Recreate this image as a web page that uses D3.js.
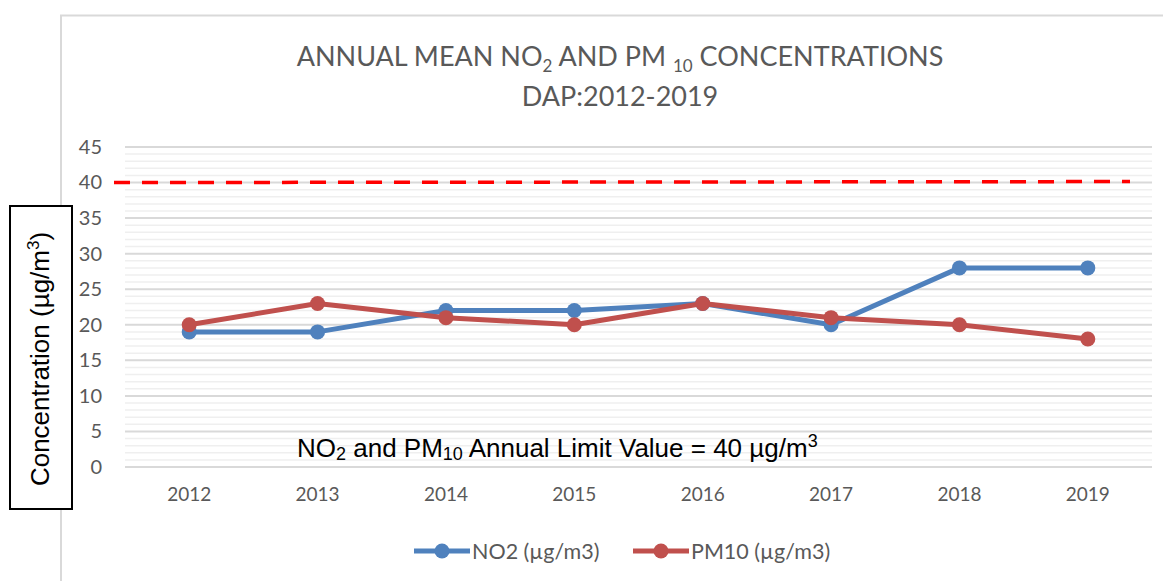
<!DOCTYPE html>
<html>
<head>
<meta charset="utf-8">
<script src="https://cdn.jsdelivr.net/npm/d3@7"></script>
<style>
  body { margin: 0; background: #fff; }
  svg { display: block; }
</style>
</head>
<body>
<svg id="chart" width="1163" height="581"></svg>
<script>
// values
var years = ["2012", "2013", "2014", "2015", "2016", "2017", "2018", "2019"];
var no2 = [19, 19, 22, 22, 23, 20, 28, 28];
var pm10 = [20, 23, 21, 20, 23, 21, 20, 18];
var yTicks = [0, 5, 10, 15, 20, 25, 30, 35, 40, 45];
var limitValue = 40;
var seriesNames = ["NO2 (µg/m3)", "PM10 (µg/m3)"];

var svg = d3.select("#chart"),
    plotLeft = 125,
    plotRight = 1152,
    plotTop = 147,
    plotBottom = 467,
    tickFont = "Lato, 'Open Sans', sans-serif",
    grey = "#595959",
    blue = "#4f81bd",
    red = "#c0504d";

// chart frame
svg.append("path")
  .attr("d", "M61,581 V15.5 H1163")
  .attr("fill", "none")
  .attr("stroke", "#d9d9d9")
  .attr("stroke-width", 2);

var x = d3.scaleBand().domain(years).range([plotLeft, plotRight]);
var y = d3.scaleLinear().domain([0, 45]).range([plotBottom, plotTop]);

// minor gridlines every 1, major every 5
svg.append("g").selectAll("line")
  .data(d3.range(0, 46).filter(function(v){ return v % 5 != 0; }))
  .enter().append("line")
  .attr("x1", plotLeft).attr("x2", plotRight)
  .attr("y1", function(d){ return y(d); })
  .attr("y2", function(d){ return y(d); })
  .attr("stroke", "#efefef")
  .attr("stroke-width", 1.5);

svg.append("g").selectAll("line")
  .data(yTicks)
  .enter().append("line")
  .attr("x1", plotLeft).attr("x2", plotRight)
  .attr("y1", function(d){ return y(d); })
  .attr("y2", function(d){ return y(d); })
  .attr("stroke", "#d9d9d9")
  .attr("stroke-width", 2);

// axes (labels only)
var yAxis = svg.append("g")
  .attr("transform", "translate(" + (plotLeft - 23) + ",0)")
  .call(d3.axisLeft(y).tickValues(yTicks).tickSize(0).tickPadding(0));
yAxis.select(".domain").remove();
yAxis.selectAll("text")
  .attr("font-family", tickFont)
  .attr("font-size", 20)
  .attr("fill", grey);

var xAxis = svg.append("g")
  .attr("transform", "translate(0," + (plotBottom + 20) + ")")
  .call(d3.axisBottom(x).tickSize(0).tickPadding(0));
xAxis.select(".domain").remove();
xAxis.selectAll("text")
  .attr("font-family", tickFont)
  .attr("font-size", 19)
  .attr("fill", grey);

// limit line
svg.append("line")
  .attr("x1", 114).attr("x2", 1130)
  .attr("y1", y(limitValue)).attr("y2", y(limitValue) - 1)
  .attr("stroke", "#ff0000")
  .attr("stroke-width", 3.5)
  .attr("stroke-dasharray", "16,12");

// series
var line = d3.line()
  .x(function(d, i){ return x(years[i]) + x.bandwidth() / 2; })
  .y(function(d){ return y(d); });

[[no2, blue], [pm10, red]].forEach(function(s){
  svg.append("path")
    .datum(s[0])
    .attr("d", line)
    .attr("fill", "none")
    .attr("stroke", s[1])
    .attr("stroke-width", 5)
    .attr("stroke-linejoin", "round");
  svg.append("g").selectAll("circle")
    .data(s[0])
    .enter().append("circle")
    .attr("cx", function(d, i){ return x(years[i]) + x.bandwidth() / 2; })
    .attr("cy", function(d){ return y(d); })
    .attr("r", 7.5)
    .attr("fill", s[1]);
});

// title
var title = svg.append("text")
  .attr("x", 620).attr("y", 66)
  .attr("text-anchor", "middle")
  .attr("font-family", tickFont)
  .attr("font-size", 27)
  .attr("fill", grey);
title.append("tspan").text("ANNUAL MEAN NO");
title.append("tspan").attr("font-size", 17).attr("dy", 6).text("2");
title.append("tspan").attr("dy", -6).text(" AND PM ");
title.append("tspan").attr("font-size", 17).attr("dy", 6).text("10");
title.append("tspan").attr("dy", -6).text(" CONCENTRATIONS");

svg.append("text")
  .attr("x", 620).attr("y", 106)
  .attr("text-anchor", "middle")
  .attr("font-family", tickFont)
  .attr("font-size", 27)
  .attr("fill", grey)
  .text("DAP:2012-2019");

// y label box
svg.append("rect")
  .attr("x", 10).attr("y", 206)
  .attr("width", 62).attr("height", 303)
  .attr("fill", "#fff")
  .attr("stroke", "#000")
  .attr("stroke-width", 2);

var ylab = svg.append("text")
  .attr("transform", "translate(49,359) rotate(-90)")
  .attr("text-anchor", "middle")
  .attr("font-family", "'Liberation Sans', Arial, sans-serif")
  .attr("font-size", 26)
  .attr("fill", "#000");
ylab.append("tspan").text("Concentration (µg/m");
ylab.append("tspan").attr("font-size", 17).attr("dy", -10).text("3");
ylab.append("tspan").attr("dy", 10).text(")");

// limit annotation
var note = svg.append("text")
  .attr("x", 297).attr("y", 457)
  .attr("font-family", "'Liberation Sans', Arial, sans-serif")
  .attr("font-size", 26)
  .attr("fill", "#000");
note.append("tspan").text("NO");
note.append("tspan").attr("font-size", 18).attr("dy", 3).text("2");
note.append("tspan").attr("dy", -3).text(" and PM");
note.append("tspan").attr("font-size", 18).attr("dy", 3).text("10");
note.append("tspan").attr("dy", -3).text(" Annual Limit Value = 40 µg/m");
note.append("tspan").attr("font-size", 18).attr("dy", -10).text("3");

// legend
var legend = svg.append("g").selectAll("g")
  .data([[seriesNames[0], blue, 414], [seriesNames[1], red, 633]])
  .enter().append("g")
  .attr("transform", function(d){ return "translate(" + d[2] + ",551)"; });
legend.append("line")
  .attr("x1", 0).attr("x2", 56)
  .attr("stroke", function(d){ return d[1]; })
  .attr("stroke-width", 5);
legend.append("circle")
  .attr("cx", 28).attr("r", 7.5)
  .attr("fill", function(d){ return d[1]; });
legend.append("text")
  .attr("x", 58).attr("y", 7.5)
  .attr("font-family", tickFont)
  .attr("font-size", 21.5)
  .attr("fill", grey)
  .text(function(d){ return d[0]; });
</script>
</body>
</html>
